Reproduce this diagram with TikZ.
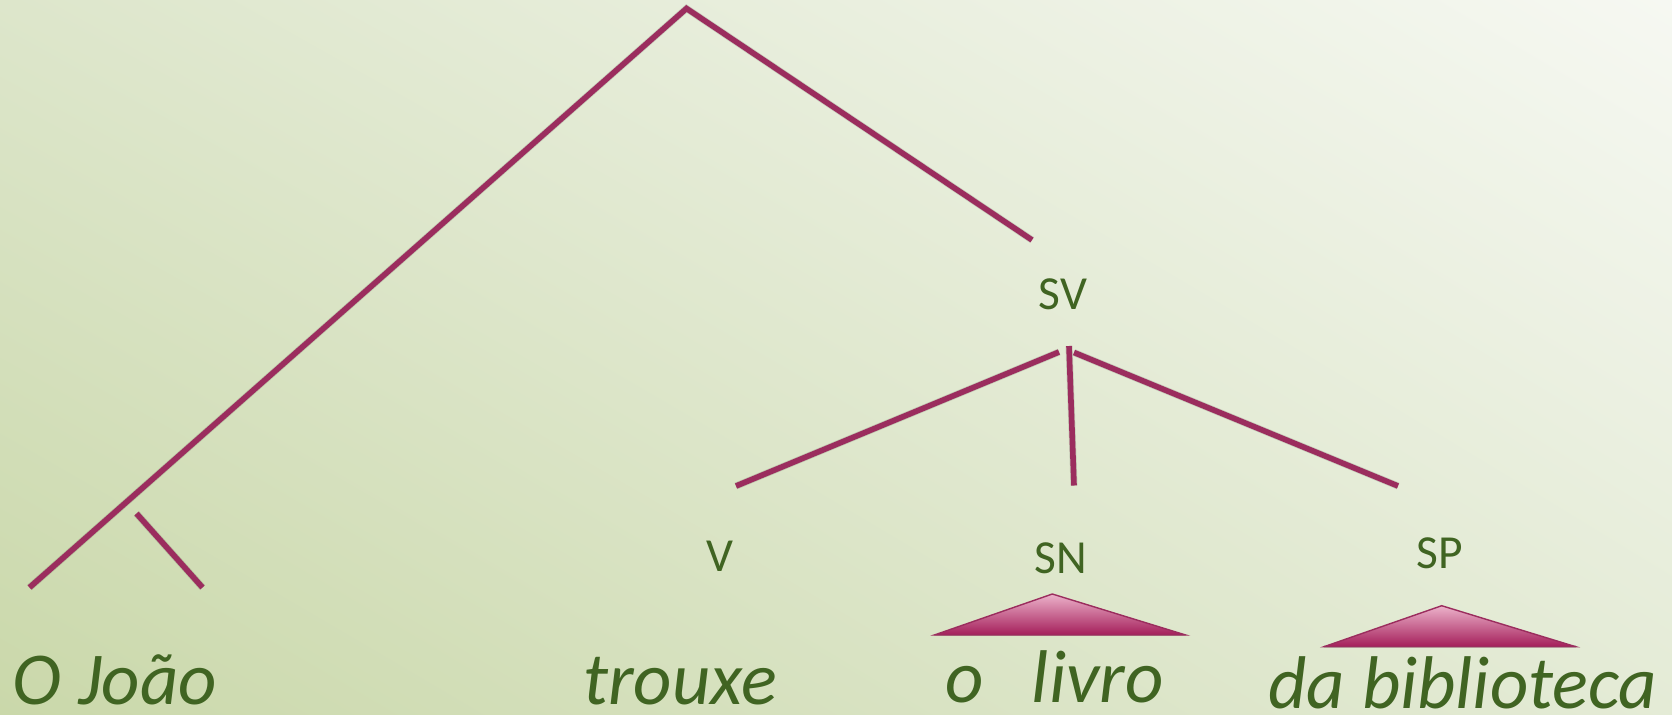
\documentclass[tikz,border=0pt]{standalone}
\usepackage{fontspec}
\usetikzlibrary{shadings}
\setmainfont{Carlito}
\definecolor{bgUL}{RGB}{221,230,203}
\definecolor{bgUR}{RGB}{246,248,242}
\definecolor{bgLL}{RGB}{202,216,170}
\definecolor{bgLR}{RGB}{228,235,214}
\definecolor{branch}{RGB}{155,45,94}
\definecolor{txtgreen}{RGB}{64,100,34}
\definecolor{triTop}{RGB}{236,178,202}
\definecolor{triBot}{RGB}{164,30,90}
\tikzset{
  branchline/.style={draw=branch, line width=3.2pt},
  shadowline/.style={draw=black, opacity=0.13, line width=4pt},
  catlabel/.style={text=txtgreen, font=\fontsize{27}{30}\selectfont, inner sep=0pt},
  wordlabel/.style={text=txtgreen, font=\itshape\fontsize{42.5}{48}\selectfont, inner sep=0pt, anchor=base west},
  tri/.style={draw=branch, line width=0.8pt, top color=triTop, bottom color=triBot},
}
\begin{document}
\begin{tikzpicture}[x=0.02cm, y=-0.02cm]
\useasboundingbox (0,0) rectangle (1672,714);
\shade[upper left=bgUL, upper right=bgUR, lower left=bgLL, lower right=bgLR] (0,0) rectangle (1672,714);

% coordinates
\coordinate (top) at (686.5,8.5);
\coordinate (lft) at (29.5,587.5);
\coordinate (sva) at (1032,240);
\coordinate (sa) at (136.5,513.5);
\coordinate (sb) at (202.5,587.5);
\coordinate (l1a) at (1059,352);
\coordinate (l1b) at (736,486);
\coordinate (l2a) at (1069,346);
\coordinate (l2b) at (1074,485.5);
\coordinate (l3a) at (1074,352.5);
\coordinate (l3b) at (1398,486);
\coordinate (t1a) at (1052.3,594);
\coordinate (t1l) at (934.3,635);
\coordinate (t1r) at (1185.7,635);
\coordinate (t2a) at (1441.7,605.7);
\coordinate (t2l) at (1324,646.7);
\coordinate (t2r) at (1575.7,646.7);

% shadows
\begin{scope}[shift={(2.5,3.5)}]
\draw[shadowline] (lft) -- (top) -- (sva);
\draw[shadowline] (sa) -- (sb);
\draw[shadowline] (l1a) -- (l1b);
\draw[shadowline] (l2a) -- (l2b);
\draw[shadowline] (l3a) -- (l3b);
\draw[shadowline, line width=1.5pt] (t1l) -- (t1r);
\draw[shadowline, line width=1.5pt] (t2l) -- (t2r);
\end{scope}

% branches
\draw[branchline] (lft) -- (top) -- (sva);
\draw[branchline] (sa) -- (sb);
\draw[branchline] (l1a) -- (l1b);
\draw[branchline] (l2a) -- (l2b);
\draw[branchline] (l3a) -- (l3b);

% triangles
\draw[tri] (t1l) -- (t1a) -- (t1r) -- cycle;
\draw[tri] (t2l) -- (t2a) -- (t2r) -- cycle;

% category labels
\node[catlabel] (SV) at (1063,294) {SV};
\node[catlabel] (V) at (720,556) {V};
\node[catlabel] (SN) at (1061,558) {SN};
\node[catlabel] (SP) at (1440,553) {SP};

% words
\node[wordlabel] (w1) at (12,704) {O João};
\node[wordlabel] (w2) at (583,704) {trouxe};
\node[wordlabel] (w3) at (945,702) {o\hspace{27.5pt}livro};
\node[wordlabel] (w4) at (1268,708) {da biblioteca};
\end{tikzpicture}
\end{document}
